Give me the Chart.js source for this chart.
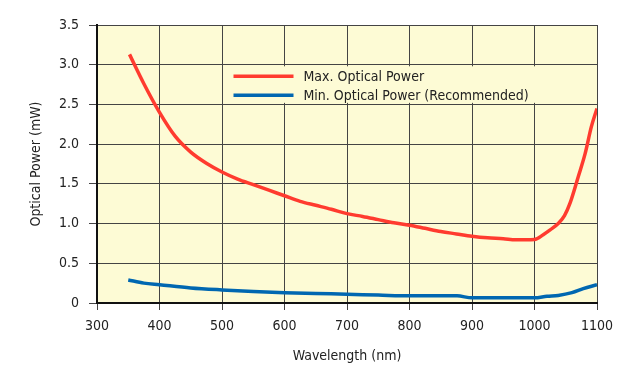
<!DOCTYPE html>
<html>
<head>
<meta charset="utf-8">
<script src="https://cdn.jsdelivr.net/npm/chart.js@4.4.1/dist/chart.umd.min.js"></script>
<style>
  html, body { margin: 0; padding: 0; background: #fff; }
  #wrap { width: 641px; height: 385px; position: relative; }
</style>
</head>
<body>
<div id="wrap"><canvas id="powerChart"></canvas></div>
<script>
// wavelength (nm) and optical power (mW)
const maxWavelength = [352, 375, 400, 425, 450, 475, 500, 525, 550, 575, 600, 625, 650, 675, 700, 725, 750, 775, 800, 825, 850, 875, 900, 925, 950, 970, 1000, 1014, 1025, 1038, 1048, 1057, 1070, 1081, 1091, 1100];
const maxPower = [3.13, 2.76, 2.40, 2.10, 1.90, 1.76, 1.65, 1.56, 1.49, 1.42, 1.35, 1.28, 1.23, 1.18, 1.125, 1.09, 1.05, 1.01, 0.98, 0.94, 0.9, 0.87, 0.84, 0.82, 0.81, 0.795, 0.8, 0.86, 0.92, 1.0, 1.1, 1.26, 1.59, 1.88, 2.22, 2.45];

const minWavelength = [350, 375, 400, 450, 500, 550, 600, 650, 700, 750, 800, 876, 900, 950, 1000, 1020, 1038, 1060, 1078, 1100];
const minPower = [0.29, 0.25, 0.23, 0.19, 0.165, 0.145, 0.13, 0.12, 0.11, 0.1, 0.09, 0.09, 0.065, 0.065, 0.065, 0.085, 0.095, 0.13, 0.18, 0.23];

const xTickLabels = ["300", "400", "500", "600", "700", "800", "900", "1000", "1100"];
const yTickLabels = ["0", "0.5", "1.0", "1.5", "2.0", "2.5", "3.0", "3.5"];

const seriesNames = ["Max. Optical Power", "Min. Optical Power (Recommended)"];
const seriesColors = ["#ff3b2f", "#0067b1"];

const FONT = "'Liberation Sans Narrow', 'DejaVu Sans Condensed', Arial, sans-serif";

// yellow plot background
const plotBackground = {
  id: "plotBackground",
  beforeDraw(chart) {
    const { ctx, chartArea } = chart;
    ctx.save();
    ctx.fillStyle = "#fdfbd5";
    ctx.fillRect(chartArea.left, chartArea.top, chartArea.right - chartArea.left, chartArea.bottom - chartArea.top);
    ctx.restore();
  },
};

// legend box sitting inside the plot, hiding the grid behind it
const insideLegend = {
  id: "insideLegend",
  afterDatasetsDraw(chart) {
    const { ctx } = chart;
    const xScale = chart.scales.x;
    const yScale = chart.scales.y;
    const left = xScale.getPixelForValue(504);
    const right = xScale.getPixelForValue(1050);
    const top = yScale.getPixelForValue(2.98);
    const bottom = yScale.getPixelForValue(2.52);
    ctx.save();
    ctx.fillStyle = "#fdfbd5";
    ctx.fillRect(left, top, right - left, bottom - top);
    ctx.font = "14px " + FONT;
    ctx.textBaseline = "middle";
    ctx.fillStyle = "#222";
    seriesNames.forEach((name, i) => {
      const y = top + 10 + i * 19;
      ctx.strokeStyle = seriesColors[i];
      ctx.lineWidth = 3.5;
      ctx.beginPath();
      ctx.moveTo(left + 9, y);
      ctx.lineTo(left + 69, y);
      ctx.stroke();
      ctx.fillText(name, left + 79, y + 1);
    });
    ctx.restore();
  },
};

const toPoints = (xs, ys) => xs.map((x, i) => ({ x: x, y: ys[i] }));

new Chart(document.getElementById("powerChart"), {
  type: "line",
  data: {
    datasets: [
      {
        label: seriesNames[0],
        data: toPoints(maxWavelength, maxPower),
        borderColor: seriesColors[0],
        borderWidth: 3.5,
        pointRadius: 0,
        cubicInterpolationMode: "monotone",
      },
      {
        label: seriesNames[1],
        data: toPoints(minWavelength, minPower),
        borderColor: seriesColors[1],
        borderWidth: 3.5,
        pointRadius: 0,
        cubicInterpolationMode: "monotone",
      },
    ],
  },
  options: {
    responsive: true,
    maintainAspectRatio: false,
    animation: false,
    layout: { padding: { top: 25, right: 44, left: 24, bottom: 0 } },
    plugins: {
      legend: { display: false },
      tooltip: { enabled: false },
    },
    scales: {
      x: {
        type: "linear",
        min: 300,
        max: 1100,
        afterFit(scale) { scale.height = 82; },
        ticks: {
          stepSize: 100,
          padding: 8,
          color: "#222",
          font: { family: FONT, size: 14 },
          callback: (v) => xTickLabels[Math.round((v - 300) / 100)],
        },
        grid: { color: "#444", lineWidth: 1, tickLength: 7 },
        border: { color: "#111", width: 2 },
        title: {
          display: true,
          text: "Wavelength (nm)",
          color: "#222",
          font: { family: FONT, size: 14 },
          padding: { top: 0, bottom: 20 },
        },
      },
      y: {
        min: 0,
        max: 3.5,
        afterFit(scale) { scale.width = 73; },
        ticks: {
          stepSize: 0.5,
          padding: 10,
          color: "#222",
          font: { family: FONT, size: 14 },
          callback: (v) => yTickLabels[Math.round(v / 0.5)],
        },
        grid: { color: "#444", lineWidth: 1, tickLength: 8 },
        border: { color: "#111", width: 2 },
        title: {
          display: true,
          text: "Optical Power (mW)",
          color: "#222",
          font: { family: FONT, size: 14 },
          padding: { top: 4, bottom: 0 },
        },
      },
    },
  },
  plugins: [plotBackground, insideLegend],
});
</script>
</body>
</html>
